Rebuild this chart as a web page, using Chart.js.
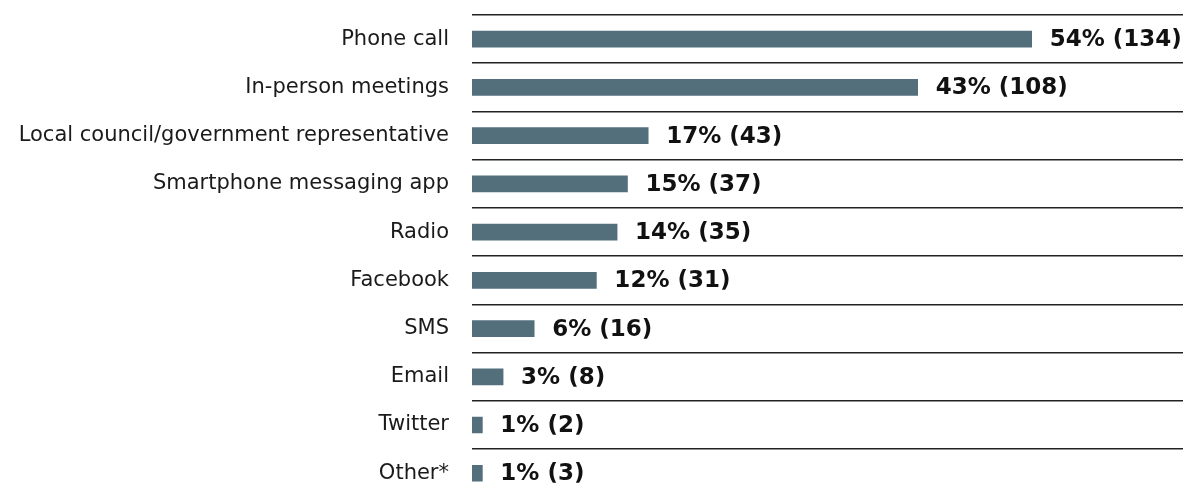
<!DOCTYPE html>
<html>
<head>
<meta charset="utf-8">
<script src="https://cdn.jsdelivr.net/npm/chart.js@4/dist/chart.umd.min.js"></script>
<style>
  html, body { margin: 0; padding: 0; overflow: hidden; background: #fff; }
  #wrap { width: 1195px; height: 510px; position: relative; }
</style>
</head>
<body>
<div id="wrap"><canvas id="channelChart"></canvas></div>
<script>
const categories = ["Phone call", "In-person meetings", "Local council/government representative",
  "Smartphone messaging app", "Radio", "Facebook", "SMS", "Email", "Twitter", "Other*"];
const percentValues = [54, 43, 17, 15, 14, 12, 6, 3, 1, 1];
const countValues = [134, 108, 43, 37, 35, 31, 16, 8, 2, 3];

const barColor = '#536f7c';
const labelFont = '"DejaVu Sans", Verdana, sans-serif';

// draws "54% (134)" at the end of each bar
const valueLabels = {
  id: 'valueLabels',
  afterDatasetsDraw(chart) {
    const ctx = chart.ctx;
    const meta = chart.getDatasetMeta(0);
    ctx.save();
    ctx.font = 'bold 23px ' + labelFont;
    ctx.fillStyle = '#111';
    ctx.textAlign = 'left';
    ctx.textBaseline = 'middle';
    meta.data.forEach(function (bar, i) {
      ctx.fillText(percentValues[i] + '% (' + countValues[i] + ')', bar.x + 18, bar.y + 1);
    });
    ctx.restore();
  }
};

new Chart(document.getElementById('channelChart'), {
  type: 'bar',
  data: {
    labels: categories,
    datasets: [{
      data: percentValues,
      backgroundColor: barColor,
      borderWidth: 0,
      barThickness: 16
    }]
  },
  options: {
    indexAxis: 'y',
    responsive: true,
    maintainAspectRatio: false,
    animation: false,
    layout: { padding: { top: 15, right: 12, bottom: 0, left: 0 } },
    plugins: {
      legend: { display: false },
      tooltip: { enabled: false }
    },
    scales: {
      x: {
        display: false,
        min: 0,
        max: 68.6
      },
      y: {
        offset: true,
        afterFit: function (scale) { scale.width = 472; },
        grid: {
          offset: true,
          drawTicks: true,
          tickLength: 23,
          tickColor: 'rgba(0,0,0,0)',
          color: '#222',
          lineWidth: 1.5
        },
        border: { display: false },
        ticks: {
          padding: 0,
          color: '#1a1a1a',
          font: { family: labelFont, size: 21 }
        }
      }
    }
  },
  plugins: [valueLabels]
});
</script>
</body>
</html>
